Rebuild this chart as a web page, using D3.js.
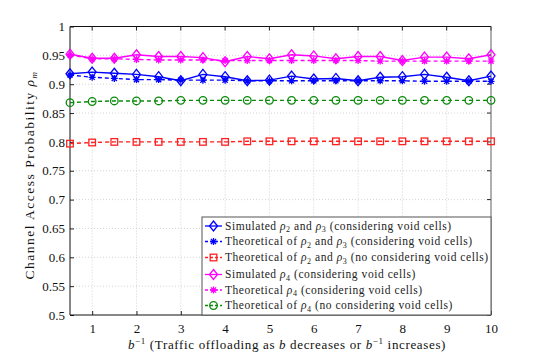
<!DOCTYPE html>
<html><head><meta charset="utf-8">
<script src="https://cdn.jsdelivr.net/npm/d3@7"></script>
<style>body{margin:0;background:#fff}svg{display:block}</style>
</head><body><svg id="c" width="542" height="355"></svg>
<script>
const xVals=[0.5,1,1.5,2,2.5,3,3.5,4,4.5,5,5.5,6,6.5,7,7.5,8,8.5,9,9.5,10];
const simRho23=[0.918,0.921,0.919,0.917,0.913,0.906,0.917,0.913,0.906,0.907,0.914,0.909,0.910,0.906,0.912,0.913,0.917,0.912,0.906,0.914];
const theoRho23=[0.916,0.912,0.910,0.908,0.908,0.907,0.907,0.907,0.906,0.906,0.906,0.906,0.906,0.906,0.906,0.906,0.905,0.905,0.905,0.905];
const theoRho23NoVoid=[0.797,0.799,0.800,0.800,0.800,0.800,0.800,0.800,0.801,0.801,0.801,0.801,0.801,0.801,0.801,0.801,0.801,0.801,0.801,0.801];
const simRho4=[0.952,0.945,0.945,0.951,0.948,0.948,0.946,0.939,0.948,0.944,0.951,0.949,0.944,0.948,0.948,0.941,0.947,0.947,0.944,0.951];
const theoRho4=[0.951,0.944,0.944,0.943,0.942,0.942,0.942,0.941,0.941,0.941,0.941,0.941,0.941,0.941,0.940,0.940,0.940,0.940,0.940,0.940];
const theoRho4NoVoid=[0.868,0.870,0.871,0.871,0.871,0.872,0.872,0.872,0.872,0.872,0.872,0.872,0.872,0.872,0.872,0.872,0.872,0.872,0.872,0.872];
const xTicks=[1,2,3,4,5,6,7,8,9,10];
const yTicks=[0.5,0.55,0.6,0.65,0.7,0.75,0.8,0.85,0.9,0.95,1];
const yTickLabels=["0.5","0.55","0.6","0.65","0.7","0.75","0.8","0.85","0.9","0.95","1"];

const series=[
 {name:[["Simulated "],["ρ","i"],["2","s"],[" and "],["ρ","i"],["3","s"],[" (considering void cells)"]],vals:simRho23,color:"#0000ff",dash:null,marker:"diamond"},
 {name:[["Theoretical of "],["ρ","i"],["2","s"],[" and "],["ρ","i"],["3","s"],[" (considering void cells)"]],vals:theoRho23,color:"#0000ff",dash:"4,3",marker:"star"},
 {name:[["Theoretical of "],["ρ","i"],["2","s"],[" and "],["ρ","i"],["3","s"],[" (no considering void cells)"]],vals:theoRho23NoVoid,color:"#ff2020",dash:"4,3",marker:"square"},
 {name:[["Simulated "],["ρ","i"],["4","s"],[" (considering void cells)"]],vals:simRho4,color:"#ff00ff",dash:null,marker:"diamond"},
 {name:[["Theoretical "],["ρ","i"],["4","s"],[" (considering void cells)"]],vals:theoRho4,color:"#ff00ff",dash:"4,3",marker:"star"},
 {name:[["Theoretical of "],["ρ","i"],["4","s"],[" (no considering void cells)"]],vals:theoRho4NoVoid,color:"#0a8a0a",dash:"4,3",marker:"circle"}
];

const FONT='Liberation Serif';
const svg=d3.select("#c");
const L=70,R=491,T=26.5,B=315;
const x=d3.scaleLinear().domain([0.5,10]).range([L,R]);
const y=d3.scaleLinear().domain([0.5,1]).range([B,T]);

// grid
const g=svg.append("g");
g.selectAll(".gx").data(xTicks).join("line").attr("x1",d=>x(d)).attr("x2",d=>x(d)).attr("y1",T).attr("y2",B)
 .attr("stroke","#c8c8c8").attr("stroke-width",0.8).attr("stroke-dasharray","1,2");
g.selectAll(".gy").data(yTicks.slice(1,-1)).join("line").attr("y1",d=>y(d)).attr("y2",d=>y(d)).attr("x1",L).attr("x2",R)
 .attr("stroke","#c8c8c8").attr("stroke-width",0.8).attr("stroke-dasharray","1,2");

// axes
const xa=svg.append("g").attr("transform",`translate(0,${B})`).call(d3.axisBottom(x).tickValues(xTicks).tickSize(-4).tickPadding(9).tickFormat(d3.format("d")));
const ya=svg.append("g").attr("transform",`translate(${L},0)`).call(d3.axisLeft(y).tickValues(yTicks).tickSize(-4).tickPadding(5).tickFormat((d,i)=>yTickLabels[i]));
[xa,ya].forEach(a=>{a.attr("font-family",FONT).attr("font-size",13);a.select(".domain").remove();a.selectAll("line").attr("stroke","#222");a.selectAll("text").attr("fill","#111");});
// right/top ticks
svg.append("g").selectAll("line").data(yTicks).join("line").attr("x1",R).attr("x2",R-4).attr("y1",d=>y(d)).attr("y2",d=>y(d)).attr("stroke","#222");
svg.append("g").selectAll("line").data(xTicks).join("line").attr("y1",T).attr("y2",T+4).attr("x1",d=>x(d)).attr("x2",d=>x(d)).attr("stroke","#222");

svg.append("line").attr("x1",L).attr("x2",R).attr("y1",T).attr("y2",T).attr("stroke","#111");
svg.append("line").attr("x1",R).attr("x2",R).attr("y1",T).attr("y2",B).attr("stroke","#666");
svg.append("line").attr("x1",L).attr("x2",R).attr("y1",B).attr("y2",B).attr("stroke","#111");
svg.append("line").attr("x1",L).attr("x2",L).attr("y1",T).attr("y2",B).attr("stroke","#111");

function drawMarker(sel,type,cx,cy,color){
  if(type==="diamond") sel.append("path").attr("d",`M${cx},${cy-5}L${cx+4},${cy}L${cx},${cy+5}L${cx-4},${cy}Z`).attr("fill","none").attr("stroke",color).attr("stroke-width",1.3);
  else if(type==="star") sel.append("path").attr("d",`M${cx-3.5},${cy}H${cx+3.5}M${cx},${cy-3.5}V${cy+3.5}M${cx-2.6},${cy-2.6}L${cx+2.6},${cy+2.6}M${cx-2.6},${cy+2.6}L${cx+2.6},${cy-2.6}`).attr("stroke",color).attr("stroke-width",1.3);
  else if(type==="square") sel.append("rect").attr("x",cx-3.3).attr("y",cy-3.3).attr("width",6.6).attr("height",6.6).attr("fill","none").attr("stroke",color).attr("stroke-width",1.3);
  else if(type==="circle") sel.append("circle").attr("cx",cx).attr("cy",cy).attr("r",3.8).attr("fill","none").attr("stroke",color).attr("stroke-width",1.3);
}

const line=d3.line().x((d,i)=>x(xVals[i])).y(d=>y(d));
series.forEach(s=>{
  const sg=svg.append("g");
  sg.append("path").datum(s.vals).attr("d",line).attr("fill","none").attr("stroke",s.color).attr("stroke-width",1.4).attr("stroke-dasharray",s.dash);
  s.vals.forEach((v,i)=>drawMarker(sg,s.marker,x(xVals[i]),y(v),s.color));
});

// legend
const lx0=202,ly0=217,lx1=491,ly1=315;
svg.append("rect").attr("x",lx0).attr("y",ly0).attr("width",lx1-lx0).attr("height",ly1-ly0).attr("fill","#fff").attr("stroke","#555");
const rowY=[226,241.5,257.5,274.5,290,305.5];
series.forEach((s,i)=>{
  const cy=rowY[i];
  const lg=svg.append("g");
  lg.append("line").attr("x1",205).attr("x2",222).attr("y1",cy).attr("y2",cy).attr("stroke",s.color).attr("stroke-width",1.3).attr("stroke-dasharray",s.dash?"3,2":null);
  drawMarker(lg,s.marker,213.5,cy,s.color);
  const t=lg.append("text").attr("x",225).attr("y",cy+3.8).attr("font-family",FONT).attr("font-size",11.5).attr("letter-spacing",0.55).attr("fill","#222");
  let prevSub=false;
  s.name.forEach(p=>{
    const ts=t.append("tspan").text(p[0]);
    if(p[1]==="i") ts.attr("font-style","italic");
    if(p[1]==="s") ts.attr("dy",2.5).attr("font-size",8);
    else if(prevSub) ts.attr("dy",-2.5);
    prevSub=p[1]==="s";
  });
});

// axis labels
const xl=svg.append("text").attr("x",287).attr("y",349).attr("text-anchor","middle").attr("font-family",FONT).attr("font-size",13).attr("letter-spacing",0.65).attr("fill","#111");
xl.append("tspan").text("b").attr("font-style","italic");
xl.append("tspan").text("−1").attr("dy",-5).attr("font-size",9);
xl.append("tspan").text(" (Traffic offloading as ").attr("dy",5);
xl.append("tspan").text("b").attr("font-style","italic");
xl.append("tspan").text(" decreases or ");
xl.append("tspan").text("b").attr("font-style","italic");
xl.append("tspan").text("−1").attr("dy",-5).attr("font-size",9);
xl.append("tspan").text(" increases)").attr("dy",5);

const yl=svg.append("text").attr("transform","translate(34,175) rotate(-90)").attr("text-anchor","middle").attr("font-family",FONT).attr("font-size",13.5).attr("letter-spacing",1.5).attr("fill","#111");
yl.append("tspan").text("Channel Access Probability ");
yl.append("tspan").text("ρ").attr("font-style","italic");
yl.append("tspan").text("m").attr("font-style","italic").attr("font-size",9).attr("dy",3);
</script></body></html>
